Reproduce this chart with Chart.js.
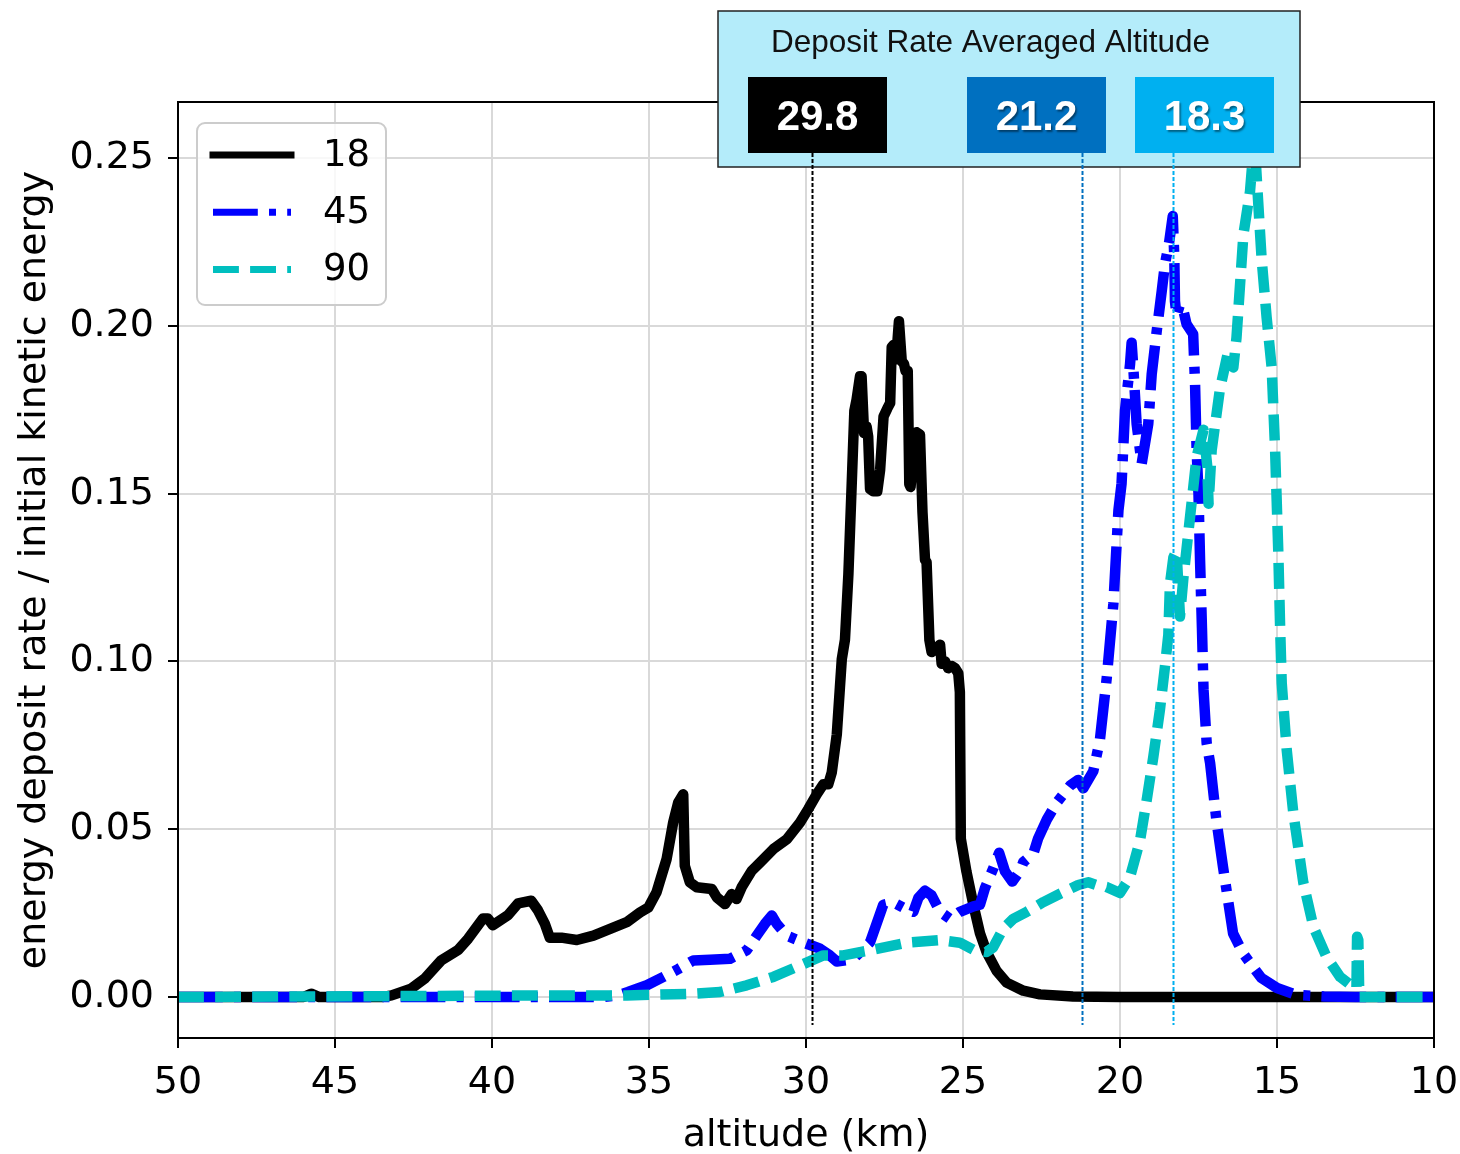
<!DOCTYPE html>
<html>
<head>
<meta charset="utf-8">
<script src="https://cdn.jsdelivr.net/npm/chart.js@4.4.1/dist/chart.umd.min.js"></script>
<style>
  html, body { margin: 0; padding: 0; background: #ffffff; }
  #wrap { width: 1460px; height: 1154px; position: relative; }
</style>
</head>
<body>
<div id="wrap"><canvas id="c" width="1460" height="1154"></canvas></div>
<script>
// Energy deposit profiles by entry angle (deg)
const seriesLabels = ['18', '45', '90'];

const alt18 = [50, 46.0, 45.76, 45.5, 43.5, 43.2, 42.58, 42.14, 41.61, 41.08, 40.76, 40.29, 40.13, 39.97, 39.49, 39.17, 38.75, 38.54, 38.32, 38.16, 37.79, 37.3, 36.77, 36.24, 35.71, 35.29, 35.02, 34.76, 34.44, 34.23, 34.07, 33.91, 33.86, 33.7, 33.48, 33.0, 32.84, 32.58, 32.37, 32.21, 32.05, 31.73, 31.46, 31.04, 30.61, 30.19, 29.93, 29.66, 29.45, 29.29, 29.18, 29.02, 28.92, 28.86, 28.76, 28.65, 28.55, 28.46, 28.39, 28.28, 28.23, 28.15, 28.07, 28.02, 27.96, 27.86, 27.73, 27.64, 27.53, 27.41, 27.32, 27.27, 27.2, 27.13, 27.04, 26.95, 26.88, 26.83, 26.76, 26.71, 26.67, 26.56, 26.48, 26.37, 26.29, 26.21, 26.16, 26.07, 26.0, 25.89, 25.81, 25.73, 25.68, 25.57, 25.47, 25.35, 25.25, 25.15, 25.1, 25.07, 24.89, 24.67, 24.46, 24.25, 23.93, 23.61, 23.08, 22.55, 21.5, 20, 10];
const val18 = [0, 0, 0.001, 0, 0, 0.0005, 0.0025, 0.0055, 0.011, 0.014, 0.0174, 0.0234, 0.0234, 0.0214, 0.0244, 0.0279, 0.0287, 0.0259, 0.0219, 0.0177, 0.0177, 0.017, 0.0183, 0.0203, 0.0223, 0.0252, 0.0267, 0.0312, 0.0411, 0.052, 0.058, 0.0604, 0.0391, 0.0342, 0.0327, 0.0322, 0.0297, 0.0277, 0.0307, 0.0292, 0.0327, 0.0376, 0.0401, 0.0441, 0.047, 0.052, 0.056, 0.0604, 0.0634, 0.0634, 0.0669, 0.0782, 0.0923, 0.1007, 0.1064, 0.126, 0.1514, 0.1747, 0.178, 0.185, 0.185, 0.168, 0.170, 0.167, 0.1514, 0.1507, 0.1507, 0.157, 0.173, 0.1754, 0.177, 0.1937, 0.1944, 0.19, 0.2014, 0.1894, 0.1887, 0.1866, 0.1866, 0.1528, 0.152, 0.164, 0.1683, 0.1676, 0.1444, 0.1303, 0.1296, 0.1064, 0.1028, 0.1036, 0.1043, 0.105, 0.0993, 0.1, 0.098, 0.0986, 0.098, 0.0965, 0.0909, 0.0472, 0.0374, 0.0275, 0.019, 0.0134, 0.0078, 0.0043, 0.0019, 0.0008, 0.0002, 0, 0];

const alt45 = [50, 36.5, 36.0, 35.67, 35.07, 34.54, 34.06, 33.59, 33.06, 32.42, 31.89, 31.57, 31.31, 31.09, 30.93, 30.61, 30.09, 29.55, 29.24, 29.02, 28.5, 27.96, 27.75, 27.54, 27.22, 26.79, 26.58, 26.42, 26.21, 26.0, 25.73, 25.41, 25.1, 24.67, 24.46, 24.3, 24.03, 23.85, 23.66, 23.43, 23.18, 23.08, 22.76, 22.61, 22.33, 22.01, 21.59, 21.33, 21.17, 20.85, 20.64, 20.42, 20.21, 20.05, 19.95, 19.84, 19.68, 19.63, 19.57, 19.47, 19.31, 19.1, 18.99, 18.83, 18.67, 18.57, 18.43, 18.32, 18.27, 18.25, 18.2, 18.09, 17.98, 17.88, 17.67, 17.61, 17.56, 17.5, 17.45, 17.39, 17.34, 17.24, 17.13, 16.93, 16.72, 16.4, 16.08, 15.5, 15.0, 14.37, 13.5, 12.5, 10];
const val45 = [0, 0, 0.0005, 0.0015, 0.0035, 0.006, 0.0084, 0.0109, 0.0111, 0.0114, 0.0139, 0.0183, 0.0218, 0.0243, 0.0218, 0.0183, 0.0163, 0.0144, 0.0124, 0.0106, 0.0113, 0.0163, 0.0219, 0.0275, 0.0282, 0.0261, 0.0254, 0.0296, 0.0317, 0.0303, 0.0254, 0.0233, 0.0254, 0.027, 0.0275, 0.0325, 0.0385, 0.043, 0.0374, 0.0344, 0.0376, 0.0402, 0.0427, 0.0472, 0.0529, 0.058, 0.063, 0.0647, 0.0622, 0.0673, 0.0766, 0.0953, 0.1173, 0.145, 0.153, 0.1748, 0.1886, 0.195, 0.1866, 0.1708, 0.1589, 0.1708, 0.1856, 0.1985, 0.2104, 0.2183, 0.2252, 0.2327, 0.2203, 0.2074, 0.203, 0.2064, 0.2045, 0.2005, 0.1975, 0.1827, 0.163, 0.15, 0.13, 0.11, 0.0915, 0.0757, 0.0697, 0.0527, 0.0388, 0.019, 0.013, 0.0057, 0.0027, 0.0006, 0.0002, 0, 0];

const alt90 = [50, 37.8, 35.7, 33.59, 32.74, 31.89, 31.04, 30.19, 29.45, 28.81, 28.28, 27.86, 26.79, 25.73, 25.1, 24.67, 24.25, 24.04, 23.72, 23.4, 22.97, 22.44, 21.91, 21.33, 21.01, 20.75, 20.43, 20.0, 19.68, 19.36, 19.15, 18.94, 18.73, 18.57, 18.46, 18.41, 18.3, 18.2, 18.09, 17.98, 17.77, 17.56, 17.34, 17.22, 17.18, 17.08, 16.82, 16.55, 16.39, 16.29, 16.07, 15.86, 15.72, 15.6, 15.49, 15.33, 15.17, 15.06, 14.96, 14.9, 14.85, 14.69, 14.48, 14.16, 13.84, 13.42, 12.99, 12.57, 12.47, 12.45, 12.41, 12.38, 10];
const val90 = [0, 0.0005, 0.0005, 0.001, 0.0015, 0.0035, 0.006, 0.0094, 0.0124, 0.0124, 0.0134, 0.0141, 0.0162, 0.017, 0.0162, 0.0141, 0.0134, 0.0148, 0.0204, 0.0233, 0.0254, 0.0283, 0.0308, 0.0334, 0.0342, 0.0334, 0.0328, 0.031, 0.0358, 0.0468, 0.0587, 0.0715, 0.0855, 0.0983, 0.108, 0.123, 0.131, 0.133, 0.1134, 0.125, 0.143, 0.161, 0.169, 0.158, 0.147, 0.163, 0.181, 0.1926, 0.1876, 0.1965, 0.2272, 0.24, 0.256, 0.237, 0.22, 0.2025, 0.1876, 0.163, 0.133, 0.11, 0.0936, 0.0736, 0.0548, 0.034, 0.0209, 0.0119, 0.006, 0.003, 0.0025, 0.018, 0.017, 0, 0];

const yTickValues = [0, 0.05, 0.10, 0.15, 0.20, 0.25];

// Deposit-rate averaged altitude (km) for each angle
const avgTitle = 'Deposit Rate Averaged Altitude';
const avgAltitudes = [29.8, 21.2, 18.3];
const avgColors = ['#000000', '#0070C0', '#00B0F0'];

const pts = (xs, ys) => xs.map((x, i) => ({ x: x, y: ys[i] }));

// line width and the dash unit the dash patterns scale with
const LW = 10.5;
const DU = 7;
const datasets = [
  { label: seriesLabels[0], data: pts(alt18, val18), borderColor: '#000000', borderDash: [], borderCapStyle: 'butt', order: 2 },
  { label: seriesLabels[1], data: pts(alt45, val45), borderColor: '#0000FF', borderDash: [6.4 * DU, 1.6 * DU, 1 * DU, 1.6 * DU], order: 1 },
  { label: seriesLabels[2], data: pts(alt90, val90), borderColor: '#00BFBF', borderDash: [3.7 * DU, 1.6 * DU], order: 0 }
].map(d => Object.assign(d, {
  borderWidth: LW, pointRadius: 0, tension: 0, fill: false, borderJoinStyle: 'round'
}));

const FONT = 'DejaVu Sans';

// Axes frame on all four sides
const framePlugin = {
  id: 'frame',
  afterDatasetsDraw(chart) {
    const { ctx, chartArea: a } = chart;
    ctx.save();
    ctx.strokeStyle = '#000';
    ctx.lineWidth = 2;
    ctx.strokeRect(a.left, a.top, a.right - a.left, a.bottom - a.top);
    ctx.restore();
  }
};

// Legend box in the upper-left of the plot
const legendPlugin = {
  id: 'boxLegend',
  afterDatasetsDraw(chart) {
    const { ctx, chartArea: a } = chart;
    const bx = a.left + 19, by = a.top + 21, bw = 189, bh = 182, r = 8;
    ctx.save();
    ctx.beginPath();
    ctx.roundRect(bx, by, bw, bh, r);
    ctx.fillStyle = 'rgba(255,255,255,0.8)';
    ctx.fill();
    ctx.lineWidth = 2;
    ctx.strokeStyle = '#cccccc';
    ctx.stroke();
    chart.data.datasets.forEach((ds, i) => {
      const y = by + 32 + i * 57.3;
      ctx.beginPath();
      ctx.strokeStyle = ds.borderColor;
      ctx.lineWidth = 7;
      ctx.setLineDash(ds.borderDash || []);
      ctx.lineCap = i === 0 ? 'square' : 'butt';
      ctx.moveTo(bx + 16, y);
      ctx.lineTo(bx + 94, y);
      ctx.stroke();
      ctx.setLineDash([]);
      ctx.fillStyle = '#000';
      ctx.font = '37px "' + FONT + '"';
      ctx.textBaseline = 'middle';
      ctx.textAlign = 'left';
      ctx.fillText(ds.label, bx + 126, y + 1);
    });
    ctx.restore();
  }
};

// Callout panel with the averaged altitudes and their marker lines
const calloutPlugin = {
  id: 'callout',
  afterDraw(chart) {
    const { ctx } = chart;
    const xs = chart.scales.x, ys = chart.scales.y;
    const panel = { x: 718, y: 11, w: 582, h: 156 };
    const boxes = [748, 967, 1135];
    const boxW = 139, boxTop = 77, boxH = 76;
    ctx.save();
    ctx.fillStyle = '#B4ECFA';
    ctx.fillRect(panel.x, panel.y, panel.w, panel.h);
    ctx.lineWidth = 1.5;
    ctx.strokeStyle = '#222';
    ctx.strokeRect(panel.x, panel.y, panel.w, panel.h);
    ctx.fillStyle = '#111';
    ctx.font = '31.5px "Liberation Sans"';
    ctx.textBaseline = 'alphabetic';
    ctx.textAlign = 'left';
    ctx.fillText(avgTitle, 771, 52);

    // dashed marker lines at each averaged altitude
    const yEnd = ys.getPixelForValue(-0.0083);
    avgAltitudes.forEach((v, i) => {
      const px = Math.round(xs.getPixelForValue(v)) + 0.5;
      ctx.beginPath();
      ctx.setLineDash([4, 2]);
      ctx.lineWidth = 2;
      ctx.strokeStyle = avgColors[i];
      ctx.moveTo(px, boxTop + boxH);
      ctx.lineTo(px, yEnd);
      ctx.stroke();
    });
    ctx.setLineDash([]);

    avgAltitudes.forEach((v, i) => {
      ctx.fillStyle = avgColors[i];
      ctx.fillRect(boxes[i], boxTop, boxW, boxH);
      ctx.save();
      ctx.shadowColor = 'rgba(0,0,0,0.45)';
      ctx.shadowOffsetX = 1.5;
      ctx.shadowOffsetY = 2;
      ctx.shadowBlur = 2;
      ctx.fillStyle = '#ffffff';
      ctx.font = 'bold 42px "Liberation Sans"';
      ctx.textAlign = 'center';
      ctx.textBaseline = 'middle';
      ctx.fillText(v.toFixed(1), boxes[i] + boxW / 2, boxTop + boxH / 2 + 3);
      ctx.restore();
    });
    ctx.restore();
  }
};

new Chart(document.getElementById('c'), {
  type: 'line',
  data: { datasets: datasets },
  options: {
    responsive: false,
    animation: false,
    devicePixelRatio: 1,
    layout: { padding: { left: 0, right: 26, top: 102, bottom: 0 } },
    elements: { line: { borderWidth: LW } },
    plugins: { legend: { display: false }, tooltip: { enabled: false } },
    scales: {
      x: {
        type: 'linear',
        min: 10, max: 50, reverse: true,
        afterFit(s) { s.height = 116; s.paddingLeft = 0; s.paddingRight = 0; },
        ticks: { stepSize: 5, color: '#000', padding: 12, font: { family: FONT, size: 38 }, maxRotation: 0 },
        grid: { color: '#d9d9d9', lineWidth: 2, tickColor: '#000', tickLength: 10, tickWidth: 2 },
        border: { display: false },
        title: { display: true, text: 'altitude (km)', color: '#000', font: { family: FONT, size: 38, lineHeight: 1 }, padding: { top: 0, bottom: -1 } }
      },
      y: {
        type: 'linear',
        min: -0.0122, max: 0.2667,
        afterFit(s) { s.width = 178; s.paddingTop = 0; s.paddingBottom = 0; },
        afterBuildTicks(s) { s.ticks = yTickValues.map(v => ({ value: v })); },
        ticks: { color: '#000', padding: 14, font: { family: FONT, size: 38 }, callback: v => v.toFixed(2) },
        grid: { color: '#d9d9d9', lineWidth: 2, tickColor: '#000', tickLength: 10, tickWidth: 2 },
        border: { display: false },
        title: { display: true, text: 'energy deposit rate / initial kinetic energy', color: '#000', font: { family: FONT, size: 38 }, padding: { top: 12, bottom: 0 } }
      }
    }
  },
  plugins: [framePlugin, legendPlugin, calloutPlugin]
});
</script>
</body>
</html>
